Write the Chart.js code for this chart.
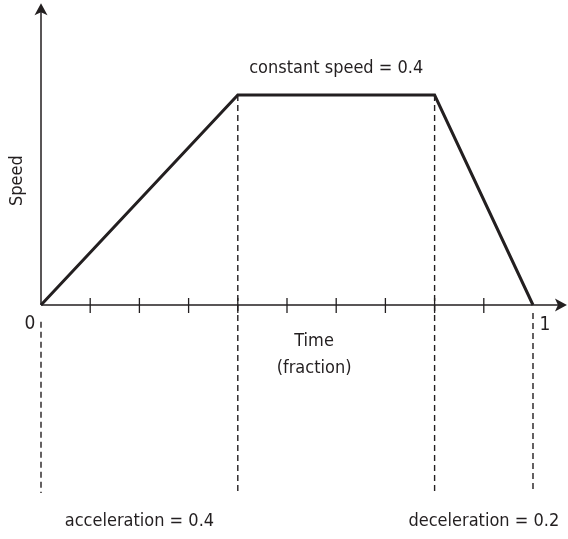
<!DOCTYPE html>
<html>
<head>
<meta charset="utf-8">
<script src="https://cdn.jsdelivr.net/npm/chart.js@4"></script>
<style>
  html, body { margin: 0; padding: 0; background: #fff; }
  #wrap { width: 568px; height: 539px; position: relative; }
</style>
</head>
<body>
<div id="wrap"><canvas id="speedChart"></canvas></div>
<script>
// speed profile: accelerate, cruise, decelerate
const times = [0, 0.4, 0.8, 1];
const speeds = [0, 0.4, 0.4, 0];

// phase boundaries, drawn as dashed guides down to the labels
const guideTimes = [0, 0.4, 0.8, 1];
const guideTops = [-0.032, 0.4, 0.4, -0.015];
const guideBottom = -0.358;

const tickTimes = [0.1, 0.2, 0.3, 0.4, 0.5, 0.6, 0.7, 0.8, 0.9];

const notes = [
    { text: "constant speed = 0.4", x: 0.6, y: 0.451 },
    { text: "acceleration = 0.4", x: 0.2, y: -0.413 },
    { text: "deceleration = 0.2", x: 0.9, y: -0.413 },
    { text: "Time", x: 0.555, y: -0.07 },
    { text: "(fraction)", x: 0.555, y: -0.12 }
];

const INK = "#231f20";
const FONT = '"Liberation Sans Narrow", "DejaVu Sans Condensed", "Liberation Sans", sans-serif';

const guideSets = guideTimes.map((t, i) => ({
    data: [{ x: t, y: guideTops[i] }, { x: t, y: guideBottom }],
    borderColor: INK,
    borderWidth: 1.4,
    borderDash: [6, 4],
    pointRadius: 0,
    clip: false
}));

// axes with arrowheads, ticks and all the text
const axesPlugin = {
    id: "axes",
    afterDatasetsDraw(chart) {
        const ctx = chart.ctx;
        const xs = chart.scales.x, ys = chart.scales.y;
        const x0 = xs.getPixelForValue(0);
        const y0 = ys.getPixelForValue(0);
        const xEnd = xs.getPixelForValue(1.069);
        const yEnd = ys.getPixelForValue(0.575);

        ctx.save();
        ctx.strokeStyle = INK;
        ctx.fillStyle = INK;
        ctx.lineWidth = 1.5;
        ctx.beginPath();
        ctx.moveTo(x0, y0);
        ctx.lineTo(xEnd - 8, y0);
        ctx.moveTo(x0, y0);
        ctx.lineTo(x0, yEnd + 8);
        ctx.stroke();

        // arrowheads
        ctx.beginPath();
        ctx.moveTo(xEnd, y0);
        ctx.lineTo(xEnd - 12, y0 - 6.5);
        ctx.lineTo(xEnd - 9, y0);
        ctx.lineTo(xEnd - 12, y0 + 6.5);
        ctx.closePath();
        ctx.fill();
        ctx.beginPath();
        ctx.moveTo(x0, yEnd);
        ctx.lineTo(x0 - 6.5, yEnd + 12);
        ctx.lineTo(x0, yEnd + 9);
        ctx.lineTo(x0 + 6.5, yEnd + 12);
        ctx.closePath();
        ctx.fill();

        ctx.lineWidth = 1.3;
        ctx.beginPath();
        tickTimes.forEach(t => {
            const px = xs.getPixelForValue(t);
            ctx.moveTo(px, y0 - 7);
            ctx.lineTo(px, y0 + 8);
        });
        ctx.stroke();

        ctx.font = "18px " + FONT;
        ctx.textAlign = "center";
        ctx.textBaseline = "middle";
        notes.forEach(n => {
            ctx.fillText(n.text, xs.getPixelForValue(n.x), ys.getPixelForValue(n.y));
        });

        ctx.font = "19px " + FONT;
        ctx.fillText("0", x0 - 11, y0 + 19);
        ctx.fillText("1", xs.getPixelForValue(1) + 12, y0 + 20);

        ctx.font = "18px " + FONT;
        ctx.translate(17, ys.getPixelForValue(0.237));
        ctx.rotate(-Math.PI / 2);
        ctx.fillText("Speed", 0, 0);
        ctx.restore();
    }
};

new Chart(document.getElementById("speedChart"), {
    type: "line",
    data: {
        datasets: [{
            data: times.map((t, i) => ({ x: t, y: speeds[i] })),
            borderColor: INK,
            borderWidth: 3,
            pointRadius: 0,
            tension: 0,
            clip: false
        }, ...guideSets]
    },
    options: {
        responsive: true,
        maintainAspectRatio: false,
        animation: false,
        layout: { padding: { left: 41, right: 35, top: 0.5, bottom: 3 } },
        plugins: { legend: { display: false }, tooltip: { enabled: false } },
        scales: {
            x: { type: "linear", min: 0, max: 1, display: false },
            y: { min: -0.44, max: 0.58, display: false }
        }
    },
    plugins: [axesPlugin]
});
</script>
</body>
</html>
